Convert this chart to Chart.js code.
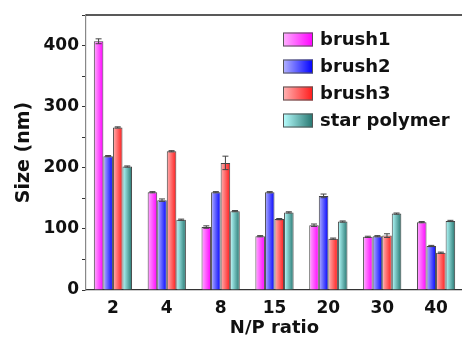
<!DOCTYPE html>
<html>
<head>
<meta charset="utf-8">
<script src="https://cdn.jsdelivr.net/npm/chart.js@4/dist/chart.umd.min.js"></script>
<style>
  html, body { margin: 0; padding: 0; background: #fff; overflow: hidden; }
  #wrap { position: relative; width: 470px; height: 345px; }
</style>
</head>
<body>
<div id="wrap"><canvas id="c"></canvas></div>
<script>
const categories = ['2', '4', '8', '15', '20', '30', '40'];
const seriesNames = ['brush1', 'brush2', 'brush3', 'star polymer'];
const brush1 = [407, 160, 103, 88, 106, 87, 111];
const brush2 = [219, 147, 160, 160, 154, 88, 72];
const brush3 = [266, 227, 208, 116, 84, 89, 61];
const star   = [202, 115, 129, 127, 112, 125, 113];
const brush1Err = [4, 1, 2, 1, 2, 1, 1];
const brush2Err = [1, 2, 1, 1, 3, 1, 1];
const brush3Err = [1, 1, 11, 1, 1, 3, 1];
const starErr   = [1, 1, 1, 1, 1, 1, 1];
const yTicks = [0, 100, 200, 300, 400];

const lightColors = ['#ffb0ff', '#b4b4ff', '#ffb4b4', '#b8ffff'];
const darkColors  = ['#ff00ff', '#0000ff', '#ff1a1a', '#25756f'];
const CAT_PCT = 0.71;
const FONT = '"DejaVu Sans", sans-serif';

function barGradient(ctx) {
  const chart = ctx.chart;
  const ds = ctx.datasetIndex;
  const xs = chart.scales && chart.scales.x;
  if (!xs || ctx.type !== 'data' || !isFinite(xs.left)) return darkColors[ds];
  const catW = (xs.right - xs.left) / categories.length;
  const groupW = catW * CAT_PCT;
  const barW = groupW / seriesNames.length;
  const c = xs.getPixelForValue(ctx.dataIndex);
  const l = c - groupW / 2 + ds * barW;
  const g = chart.ctx.createLinearGradient(l, 0, l + barW, 0);
  g.addColorStop(0, lightColors[ds]);
  g.addColorStop(1, darkColors[ds]);
  return g;
}

const values = [brush1, brush2, brush3, star];
const errors = [brush1Err, brush2Err, brush3Err, starErr];

const datasets = seriesNames.map((name, i) => ({
  label: name,
  data: values[i],
  backgroundColor: barGradient,
  borderColor: '#444',
  borderWidth: 1,
  borderSkipped: 'bottom',
  categoryPercentage: CAT_PCT,
  barPercentage: 1.0
}));

const errorBars = {
  id: 'errorBars',
  afterDatasetsDraw(chart) {
    const c = chart.ctx;
    const y = chart.scales.y;
    c.save();
    c.strokeStyle = '#444';
    c.lineWidth = 1;
    chart.data.datasets.forEach((d, di) => {
      const meta = chart.getDatasetMeta(di);
      meta.data.forEach((el, i) => {
        const v = d.data[i], e = errors[di][i];
        const yt = y.getPixelForValue(v + e), yb = y.getPixelForValue(v - e);
        const x = el.x;
        c.beginPath();
        c.moveTo(x, yt); c.lineTo(x, yb);
        c.moveTo(x - 3, yt); c.lineTo(x + 3, yt);
        c.moveTo(x - 3, yb); c.lineTo(x + 3, yb);
        c.stroke();
      });
    });
    c.restore();
  }
};

const frameAndLegend = {
  id: 'frameAndLegend',
  afterDraw(chart) {
    const c = chart.ctx;
    const a = chart.chartArea;
    c.save();
    c.strokeStyle = '#222';
    c.lineWidth = 1.5;
    c.beginPath();
    c.moveTo(a.left, a.top);
    c.lineTo(a.right + 10, a.top);
    c.stroke();
    // legend
    const bx = 283, bw = 30, bh = 14, y0 = 39.5, step = 27;
    c.font = 'bold 18px ' + FONT;
    c.textBaseline = 'middle';
    c.textAlign = 'left';
    seriesNames.forEach((name, i) => {
      const cy = y0 + i * step;
      const g = c.createLinearGradient(bx, 0, bx + bw, 0);
      g.addColorStop(0, lightColors[i]);
      g.addColorStop(1, darkColors[i]);
      c.fillStyle = g;
      c.fillRect(bx, cy - bh / 2, bw, bh);
      c.strokeStyle = '#555';
      c.lineWidth = 1;
      c.strokeRect(bx + 0.5, cy - bh / 2 + 0.5, bw - 1, bh - 1);
      c.fillStyle = '#111';
      c.fillText(name, bx + 37, cy + 1);
    });
    c.restore();
  }
};

new Chart(document.getElementById('c'), {
  type: 'bar',
  data: { labels: categories, datasets },
  options: {
    responsive: true,
    maintainAspectRatio: false,
    animation: false,
    layout: { padding: { left: 0, right: 7, top: 15, bottom: 0 } },
    plugins: { legend: { display: false }, tooltip: { enabled: false } },
    scales: {
      x: {
        offset: true,
        grid: { display: false, drawTicks: false },
        border: { color: '#333', width: 1.2 },
        ticks: { color: '#111', font: { family: FONT, size: 17, weight: 'bold' }, padding: 8 },
        title: { display: true, text: 'N/P ratio', color: '#111',
                 font: { family: FONT, size: 18, weight: 'bold' }, padding: { top: 0, bottom: 6 } },
        afterFit(s) { s.height = 55; }
      },
      y: {
        min: 0, max: 450,
        grid: { drawOnChartArea: false, drawTicks: true, tickLength: 4, color: '#333', lineWidth: 1 },
        border: { color: '#888', width: 1.2 },
        ticks: {
          stepSize: 50,
          color: '#111',
          padding: 3,
          font: { family: FONT, size: 17, weight: 'bold' },
          callback: (v) => (yTicks.includes(v) ? String(v) : '')
        },
        title: { display: true, text: 'Size (nm)', color: '#111',
                 font: { family: FONT, size: 19, weight: 'bold' }, padding: { top: 13, bottom: 0 } },
        afterFit(s) { s.width = 86; }
      }
    }
  },
  plugins: [errorBars, frameAndLegend]
});
</script>
</body>
</html>
